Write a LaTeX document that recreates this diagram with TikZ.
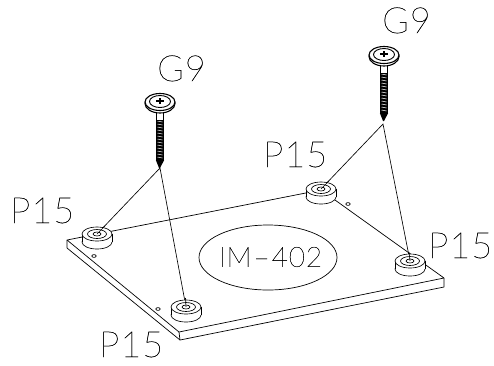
\documentclass[tikz,border=0pt]{standalone}
\usepackage{fontspec}
\newfontfamily\thinfont[LetterSpace=3,FakeBold=0.4]{Lato Thin}
\tikzset{
  edge/.style={line width=0.7pt,black,line join=round},
  lbl/.style={inner sep=0pt,anchor=base west,font=\thinfont\fontsize{36}{36}\selectfont},
  mid/.style={inner sep=0pt,font=\thinfont\fontsize{28}{28}\selectfont},
  thinedge/.style={line width=0.65pt,black},
  pics/foot/.style={code={
    \draw[thinedge,fill=white] (0,8) ellipse[x radius=15,y radius=7];
    \fill[white] (-15,0) rectangle (15,8);
    \draw[thinedge] (-15,0) -- (-15,8) (15,0) -- (15,8);
    \draw[thinedge,fill=white] (0,0) ellipse[x radius=15,y radius=7];
    \draw[thinedge] (0,0) ellipse[x radius=9.5,y radius=4.5];
    \draw[thinedge] (0,0) ellipse[x radius=4,y radius=2];
  }},
  pics/screw/.style={code={
    \fill[black] (-4.2,17) rectangle (4.2,58);
    \foreach \yy in {19,22,...,56}{\draw[white,line width=0.5pt] (-2.5,\yy) -- (2.5,\yy+1);}
    \draw[thinedge,fill=white] (-3.8,8) rectangle (3.8,18);
    \fill[black] (-4.2,58) -- (-1,66) -- (0,66) -- (4.2,58) -- cycle;
    \draw[line width=1.1pt,fill=white] (0,1.5) ellipse[x radius=15,y radius=9.5];
    \draw[line width=1.1pt,fill=white] (0,0) ellipse[x radius=15,y radius=8.5];
    \draw[line width=0.9pt] (0,-0.5) ellipse[x radius=10.5,y radius=6];
    \fill[black] (-1.3,-4.5) rectangle (1.3,1.5);
    \fill[black] (-4.2,-2.5) rectangle (4.2,-0.5);
  }}
}
\begin{document}
\begin{tikzpicture}[x=1pt,y=-1pt]
\useasboundingbox (0,0) rectangle (494,365);
% plate
\coordinate (pl) at (67,240);
\coordinate (pb) at (179,332);
\coordinate (pr) at (444,278);
\coordinate (pt) at (321,190);
\coordinate (pll) at (67,248);
\coordinate (pbb) at (180,340);
\coordinate (prr) at (444,287);
\draw[edge] (pl) -- (pb) -- (pr) -- (pt) -- cycle;
\draw[edge] (pl) -- (pll) -- (pbb) -- (prr) -- (pr);
\draw[edge] (pb) -- (pbb);
% small holes
\foreach \hx/\hy in {94/256,158/309,348/204}{\draw[thinedge] (\hx,\hy) ellipse[x radius=2.2,y radius=1.4];}
% label ellipse
\draw[edge] (268,257.5) ellipse[x radius=69,y radius=32.5];
\node[mid] (model) at (270.5,257) {IM\kern2pt–\kern2pt402};
% feet
\coordinate (f1) at (97,234);
\coordinate (f2) at (186,307);
\coordinate (f3) at (321,189);
\coordinate (f4) at (410,261);
\coordinate (a1) at (160,168);
\coordinate (a2) at (383,124);
\draw[thinedge] (f1) -- (a1) -- (f2);
\draw[thinedge] (f3) -- (a2) -- (f4);
\foreach \f in {f1,f2,f3,f4}{\pic at (\f) {foot};}
\draw[thinedge] (f1) -- +(8,-8);
\draw[thinedge] (f2) -- +(-0.5,-9);
\draw[thinedge] (f3) -- +(8,-8);
\draw[thinedge] (f4) -- +(-1,-9);
% screws
\pic at (160,102) {screw};
\pic at (384,55) {screw};
% labels
\node[lbl] (g1) at (157,81) {G9};
\node[lbl] (g2) at (382,33) {G9};
\node[lbl] (p1) at (10,223) {P15};
\node[lbl] (p2) at (263,167) {P15};
\node[lbl] (p3) at (428,258) {P15};
\node[lbl] (p4) at (99,357) {P15};
\end{tikzpicture}
\end{document}
